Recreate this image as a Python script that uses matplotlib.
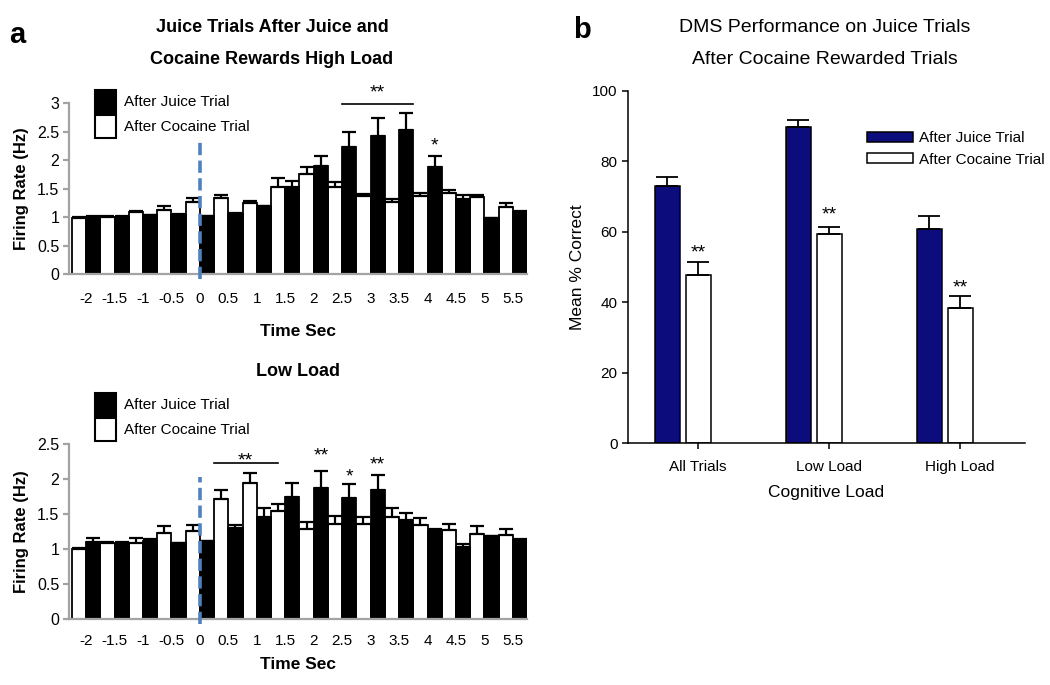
import numpy as np
import matplotlib.pyplot as plt
from matplotlib.patches import Patch

plt.rcParams['font.family'] = ['Liberation Sans', 'DejaVu Sans']

# ---- data ----
time_labels = ['-2', '-1.5', '-1', '-0.5', '0', '0.5', '1', '1.5',
               '2', '2.5', '3', '3.5', '4', '4.5', '5', '5.5']

# High load: firing rate (Hz) after juice (black) / after cocaine (white)
high_juice = [1.00, 1.00, 1.03, 1.04, 1.01, 1.06, 1.19, 1.53,
              1.89, 2.23, 2.42, 2.53, 1.88, 1.31, 0.98, 1.09]
high_juice_err = [0.01, 0.01, 0.01, 0.01, 0.01, 0.01, 0.01, 0.10,
                  0.18, 0.27, 0.32, 0.30, 0.19, 0.07, 0.01, 0.01]
high_cocaine = [0.99, 1.00, 1.08, 1.13, 1.27, 1.33, 1.25, 1.53,
                1.75, 1.53, 1.36, 1.26, 1.36, 1.42, 1.35, 1.18]
high_cocaine_err = [0.01, 0.02, 0.03, 0.06, 0.06, 0.05, 0.03, 0.15,
                    0.13, 0.08, 0.05, 0.05, 0.06, 0.05, 0.04, 0.07]

# Low load
low_juice = [1.10, 1.07, 1.12, 1.08, 1.11, 1.30, 1.46, 1.75,
             1.87, 1.73, 1.84, 1.42, 1.25, 1.03, 1.18, 1.13]
low_juice_err = [0.05, 0.03, 0.02, 0.01, 0.01, 0.04, 0.13, 0.19,
                 0.24, 0.20, 0.22, 0.10, 0.04, 0.04, 0.01, 0.01]
low_cocaine = [1.00, 1.08, 1.09, 1.23, 1.26, 1.72, 1.94, 1.54,
               1.28, 1.36, 1.36, 1.45, 1.34, 1.27, 1.22, 1.20]
low_cocaine_err = [0.01, 0.02, 0.07, 0.10, 0.08, 0.12, 0.14, 0.10,
                   0.10, 0.11, 0.09, 0.13, 0.10, 0.09, 0.11, 0.09]

# DMS performance (mean % correct)
load_groups = ['All Trials', 'Low Load', 'High Load']
dms_juice = [73.0, 89.6, 60.8]
dms_juice_err = [2.6, 2.1, 3.7]
dms_cocaine = [47.7, 59.4, 38.5]
dms_cocaine_err = [3.8, 2.0, 3.4]
dms_sig_y = [52.6, 63.6, 42.9]

GRAY = '#a3a3a3'
BLUE = '#4f81bd'
NAVY = '#0c0c7c'

fig = plt.figure(figsize=(10.5, 6.85), dpi=100)


def time_panel(ax, juice, juice_err, coc, coc_err, ymax, onset_top):
    x = np.arange(len(time_labels))
    ax.bar(x - 0.25, coc, width=0.5, color='white', edgecolor='black', linewidth=1.3, zorder=2)
    ax.bar(x + 0.25, juice, width=0.5, color='black', edgecolor='black', linewidth=1.3, zorder=2)
    ax.errorbar(x - 0.25, coc, yerr=[np.zeros(len(coc)), coc_err], fmt='none',
                ecolor='black', elinewidth=1.6, capsize=5, capthick=1.6, zorder=3)
    ax.errorbar(x + 0.25, juice, yerr=[np.zeros(len(juice)), juice_err], fmt='none',
                ecolor='black', elinewidth=1.6, capsize=5, capthick=1.6, zorder=3)
    # stimulus onset
    zero_idx = time_labels.index('0')
    ax.plot([zero_idx, zero_idx], [-0.03 * ymax, onset_top], color=BLUE, lw=2.6,
            dashes=(3.4, 1.5), zorder=4, clip_on=False)
    ax.set_xlim(-0.6, 15.5)
    ax.set_ylim(0, ymax)
    ax.set_yticks(np.arange(0, ymax + 0.01, 0.5))
    ax.set_yticklabels(['%g' % v for v in np.arange(0, ymax + 0.01, 0.5)])
    ax.set_xticks(x)
    ax.set_xticklabels(time_labels)
    for s in ['top', 'right']:
        ax.spines[s].set_visible(False)
    for s in ['left', 'bottom']:
        ax.spines[s].set_color(GRAY)
        ax.spines[s].set_linewidth(1.6)
    ax.tick_params(axis='y', length=4, width=1.6, color=GRAY, labelsize=11.5, pad=3)
    ax.tick_params(axis='x', length=0, labelsize=11)
    ax.set_ylabel('Firing Rate (Hz)', fontsize=12, fontweight='bold', labelpad=6)


def legend_left(anchor):
    handles = [Patch(facecolor='black', edgecolor='black', lw=1.5),
               Patch(facecolor='white', edgecolor='black', lw=1.5)]
    fig.legend(handles, ['After Juice Trial', 'After Cocaine Trial'], loc='upper left',
               bbox_to_anchor=anchor, bbox_transform=fig.transFigure, frameon=False,
               fontsize=11, handlelength=1.37, handleheight=1.93, labelspacing=0.13,
               handletextpad=0.5, borderpad=0, borderaxespad=0)


# ---- a: high load ----
ax1 = fig.add_axes([0.0657, 0.6, 0.4363, 0.2496])
time_panel(ax1, high_juice, high_juice_err, high_cocaine, high_cocaine_err, 3, 2.37)
ax1.tick_params(axis='x', pad=13)
ax1.set_xlabel('Time Sec', fontsize=12.5, fontweight='bold', labelpad=13)
ax1.plot([9, 11.5], [2.98, 2.98], color='black', lw=1.2, clip_on=False)
ax1.text(10.25, 3.09, '**', ha='center', va='baseline', fontsize=14, clip_on=False)
ax1.text(12.25, 2.16, '*', ha='center', va='baseline', fontsize=14)
legend_left((0.0905, 0.8686))

fig.text(0.259, 1 - 27 / 685, 'Juice Trials After Juice and', ha='center', va='center',
         fontsize=13, fontweight='bold')
fig.text(0.259, 1 - 60 / 685, 'Cocaine Rewards High Load', ha='center', va='center',
         fontsize=13, fontweight='bold')
fig.text(17 / 1050, 1 - 35 / 685, 'a', ha='center', va='center', fontsize=21, fontweight='bold')

# ---- a: low load ----
ax2 = fig.add_axes([0.0657, 0.0964, 0.4363, 0.2554])
time_panel(ax2, low_juice, low_juice_err, low_cocaine, low_cocaine_err, 2.5, 2.03)
ax2.tick_params(axis='x', pad=11)
ax2.set_xlabel('Time Sec', fontsize=12.5, fontweight='bold', labelpad=6)
ax2.plot([4.5, 6.75], [2.23, 2.23], color='black', lw=1.2)
ax2.text(5.6, 2.19, '**', ha='center', va='baseline', fontsize=14)
ax2.text(8.25, 2.26, '**', ha='center', va='baseline', fontsize=14)
ax2.text(9.25, 1.97, '*', ha='center', va='baseline', fontsize=14)
ax2.text(10.25, 2.13, '**', ha='center', va='baseline', fontsize=14)
legend_left((0.0905, 1 - 393 / 685))
fig.text(0.284, 1 - 372 / 685, 'Low Load', ha='center', va='center',
         fontsize=13, fontweight='bold')

# ---- b: DMS performance ----
ax3 = fig.add_axes([0.598, 0.3528, 0.378, 0.5148])
xg = np.arange(len(load_groups))
ax3.bar(xg - 0.235, dms_juice, width=0.19, color=NAVY, edgecolor='black', linewidth=1.1,
        label='After Juice Trial', zorder=2)
ax3.bar(xg, dms_cocaine, width=0.19, color='white', edgecolor='black', linewidth=1.1,
        label='After Cocaine Trial', zorder=2)
ax3.errorbar(xg - 0.235, dms_juice, yerr=[np.zeros(3), dms_juice_err], fmt='none',
             ecolor='black', elinewidth=1.3, capsize=8, capthick=1.3, zorder=3)
ax3.errorbar(xg, dms_cocaine, yerr=[np.zeros(3), dms_cocaine_err], fmt='none',
             ecolor='black', elinewidth=1.3, capsize=8, capthick=1.3, zorder=3)
for xi, yi in zip(xg, dms_sig_y):
    ax3.text(xi, yi, '**', ha='center', va='baseline', fontsize=14)
ax3.set_xlim(-0.537, 2.494)
ax3.set_ylim(0, 100)
ax3.set_yticks(np.arange(0, 101, 20))
ax3.set_xticks(xg)
ax3.set_xticklabels(load_groups)
for s in ['top', 'right']:
    ax3.spines[s].set_visible(False)
for s in ['left', 'bottom']:
    ax3.spines[s].set_linewidth(1.1)
ax3.tick_params(axis='both', length=4, width=1.1, labelsize=11)
ax3.tick_params(axis='x', pad=8)
ax3.set_ylabel('Mean % Correct', fontsize=12.5, labelpad=5)
ax3.set_xlabel('Cognitive Load', fontsize=12.5, labelpad=8)
ax3.legend(loc='upper left', bbox_to_anchor=(867 / 1050, 1 - 131 / 685),
           bbox_transform=fig.transFigure, frameon=False, fontsize=11,
           handlelength=3.0, handleheight=0.63, labelspacing=0.5,
           handletextpad=0.4, borderpad=0, borderaxespad=0)

fig.text(825 / 1050, 1 - 27 / 685, 'DMS Performance on Juice Trials', ha='center',
         va='center', fontsize=14)
fig.text(825 / 1050, 1 - 60 / 685, 'After Cocaine Rewarded Trials', ha='center',
         va='center', fontsize=14)
fig.text(582 / 1050, 1 - 30 / 685, 'b', ha='center', va='center', fontsize=21, fontweight='bold')

fig.savefig('out.png', dpi=100)
